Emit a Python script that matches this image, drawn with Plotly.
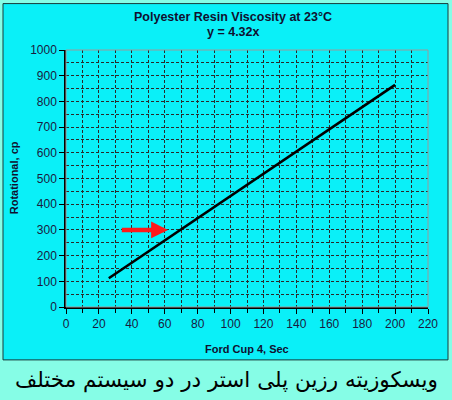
import plotly.graph_objects as go

# values
cup_sec = [26, 200]
rotational_cp = [112, 864]
arrow_x = [33, 62]
arrow_y = [300, 300]

W, H = 452, 400
L, R, T, B = 66, 24, 49.5, 93
pw, ph = W - L - R, H - T - B


def px_x(p):
    return (p - L) / pw


def px_y(p):
    return (H - B - p) / ph


def label(text, x, y, size, family="Liberation Sans", color="#101030", angle=0):
    fig.add_annotation(text=text, xref="paper", yref="paper", x=px_x(x), y=px_y(y),
                       xanchor="center", yanchor="middle", showarrow=False, textangle=angle,
                       font=dict(family=family, size=size, color=color))


fig = go.Figure()
fig.add_trace(go.Scatter(x=cup_sec, y=rotational_cp, mode="lines",
                         line=dict(color="black", width=2.6), showlegend=False))

fig.add_annotation(x=arrow_x[1], y=arrow_y[1], ax=arrow_x[0], ay=arrow_y[0],
                   xref="x", yref="y", axref="x", ayref="y",
                   showarrow=True, arrowhead=2, arrowsize=0.75, arrowwidth=4.5,
                   arrowcolor="#ff1a1a", text="")

# cyan chart box and plot border
fig.add_shape(type="rect", xref="paper", yref="paper", layer="below",
              x0=px_x(3), x1=px_x(448), y0=px_y(360), y1=px_y(3),
              fillcolor="#0af0f8", line=dict(color="#1a3a3a", width=1))
fig.add_shape(type="rect", xref="paper", yref="paper", layer="above",
              x0=0, x1=1, y0=0, y1=1, line=dict(color="#9a9a9a", width=1))

label("<b>Polyester Resin Viscosity at 23°C</b>", 233, 16, 12.5)
label("<b>y = 4.32x</b>", 233, 31, 12.5)
label("<b>Ford Cup 4, Sec</b>", 247, 349, 11)
label("<b>Rotational, cp</b>", 14, 178, 11, angle=-90)
label("ویسکوزیته رزین پلی استر در دو سیستم مختلف", 226, 380, 21.5,
      family="DejaVu Sans", color="black")

dash = "3px,2px"
grid = dict(showgrid=True, gridcolor="#2a2a2a", gridwidth=1, griddash=dash)
fig.update_xaxes(range=[0, 220], dtick=20, ticks="outside", ticklen=5, tickcolor="black",
                 showline=True, linecolor="black", linewidth=1.5, zeroline=False,
                 minor=dict(dtick=10, ticks="outside", ticklen=4, tickcolor="black",
                            showgrid=True, gridcolor="#2a2a2a", griddash=dash, gridwidth=1),
                 tickfont=dict(family="Liberation Sans", size=12, color="#1a1a40"), **grid)
fig.update_yaxes(range=[0, 1000], dtick=100, ticks="outside", ticklen=5, tickcolor="black",
                 showline=True, linecolor="black", linewidth=1.5, zeroline=False,
                 minor=dict(dtick=50, showgrid=True, gridcolor="#2a2a2a", griddash=dash, gridwidth=1),
                 tickfont=dict(family="Liberation Sans", size=12, color="#1a1a40"), **grid)

fig.update_layout(width=W, height=H, margin=dict(l=L, r=R, t=T, b=B, autoexpand=False),
                  paper_bgcolor="#86fde6", plot_bgcolor="#ffffc8", showlegend=False)
fig.write_html("out.html", config={"displayModeBar": False},
               post_script="document.body.style.margin='0px';")
